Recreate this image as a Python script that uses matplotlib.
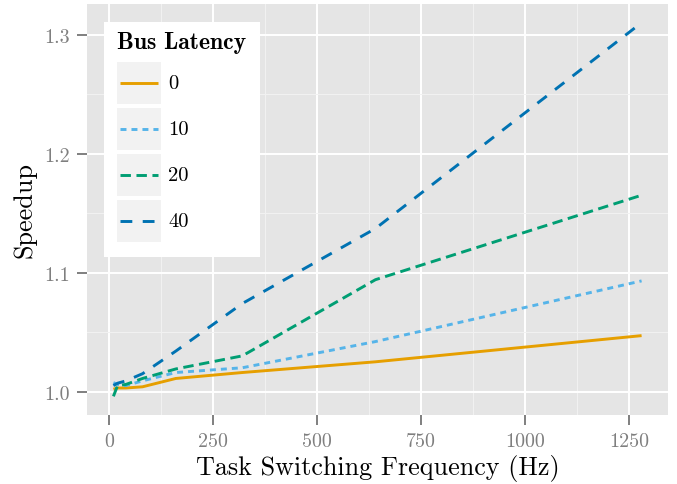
import numpy as np
import matplotlib.pyplot as plt
from matplotlib.patches import Rectangle
from matplotlib.lines import Line2D

# ---- data ----
freq = [10, 20, 40, 80, 160, 320, 640, 1280]
latencies = ["0", "10", "20", "40"]
speedup_0 = [1.002, 1.003, 1.003, 1.004, 1.011, 1.016, 1.025, 1.047]
speedup_10 = [1.0075, 1.006, 1.005, 1.009, 1.016, 1.020, 1.042, 1.093]
speedup_20 = [0.996, 1.005, 1.006, 1.011, 1.019, 1.030, 1.094, 1.165]
speedup_40 = [1.005, 1.007, 1.009, 1.015, 1.034, 1.074, 1.137, 1.310]
series = [speedup_0, speedup_10, speedup_20, speedup_40]

colors = ["#E69F00", "#56B4E9", "#009E73", "#0072B2"]
dashes = [None, (4.3, 3.6), (7.5, 4.0), (8.5, 7.5)]

xticks = [0, 250, 500, 750, 1000, 1250]
yticks = [1.0, 1.1, 1.2, 1.3]

W, H = 677, 485
plt.rcParams['lines.scale_dashes'] = False
plt.rcParams['axes.formatter.use_mathtext'] = True
fig = plt.figure(figsize=(W / 100, H / 100), dpi=100)
ax = fig.add_axes([87 / W, 1 - 416 / H, (668 - 87) / W, (416 - 5) / H])
ax.set_facecolor("#E5E5E5")
for s in ax.spines.values():
    s.set_visible(False)

for vals, c, d in zip(series, colors, dashes):
    ln, = ax.plot(freq, vals, color=c, lw=2.1, solid_capstyle='butt')
    if d is not None:
        ln.set_dashes(d)
        ln.set_dash_capstyle('butt')

# ggplot-like 5% expansion
xr = max(freq) - min(freq)
ax.set_xlim(min(freq) - 0.05 * xr, max(freq) + 0.05 * xr)
allv = np.concatenate(series)
yr = allv.max() - allv.min()
ax.set_ylim(allv.min() - 0.05 * yr, allv.max() + 0.05 * yr)

ax.set_xticks(xticks)
ax.set_yticks(yticks)
ax.set_xticklabels([str(t) for t in xticks])
ax.set_yticklabels([f"{t:.1f}" for t in yticks])
ax.set_xticks([125, 375, 625, 875, 1125], minor=True)
ax.set_yticks([1.05, 1.15, 1.25], minor=True)
ax.grid(which='major', color='white', lw=1.4)
ax.grid(which='minor', color='#F2F2F2', lw=0.7)
ax.set_axisbelow(True)
ax.tick_params(which='major', length=7, width=1.4, color='#7F7F7F',
               labelcolor='#7F7F7F', labelsize=14.4, pad=5.5)
ax.tick_params(which='minor', length=0)
for lab in ax.get_xticklabels() + ax.get_yticklabels():
    lab.set_fontfamily('cmr10')

ax.set_xlabel("Task Switching Frequency (Hz)", fontfamily='cmr10', fontsize=18.8, labelpad=3)
ax.set_ylabel("Speedup", fontfamily='cmr10', fontsize=18.8, labelpad=5)

# ---- legend drawn by hand, ggplot style ----
def P(x, y):
    return (x / W, 1 - y / H)

tf = fig.transFigure
x0, y0 = P(104, 258)
x1, y1 = P(260, 23)
fig.add_artist(Rectangle((x0, y0), x1 - x0, y1 - y0, transform=tf,
                         facecolor='white', edgecolor='none', zorder=5))
fig.text(*P(117, 43), "Bus Latency", fontfamily='cmb10', fontsize=17,
         va='center', ha='left', zorder=6)
key_top = 63
for i, (lab, c, d) in enumerate(zip(latencies, colors, dashes)):
    top = key_top + i * 46
    bx, by = P(117, top + 42)
    bx2, by2 = P(161, top)
    fig.add_artist(Rectangle((bx, by), bx2 - bx, by2 - by, transform=tf,
                             facecolor='#F2F2F2', edgecolor='none', zorder=6))
    ya = P(0, top + 21)[1]
    ln = Line2D([P(120, 0)[0], P(158, 0)[0]], [ya, ya], transform=tf,
                color=c, lw=2.1, zorder=7, solid_capstyle='butt')
    if d is not None:
        ln.set_dashes(d)
        ln.set_dash_capstyle('butt')
    fig.add_artist(ln)
    fig.text(*P(168, top + 21), lab, fontfamily='cmr10', fontsize=14.8,
             va='center', ha='left', zorder=7)

fig.savefig("out.png", dpi=100)
